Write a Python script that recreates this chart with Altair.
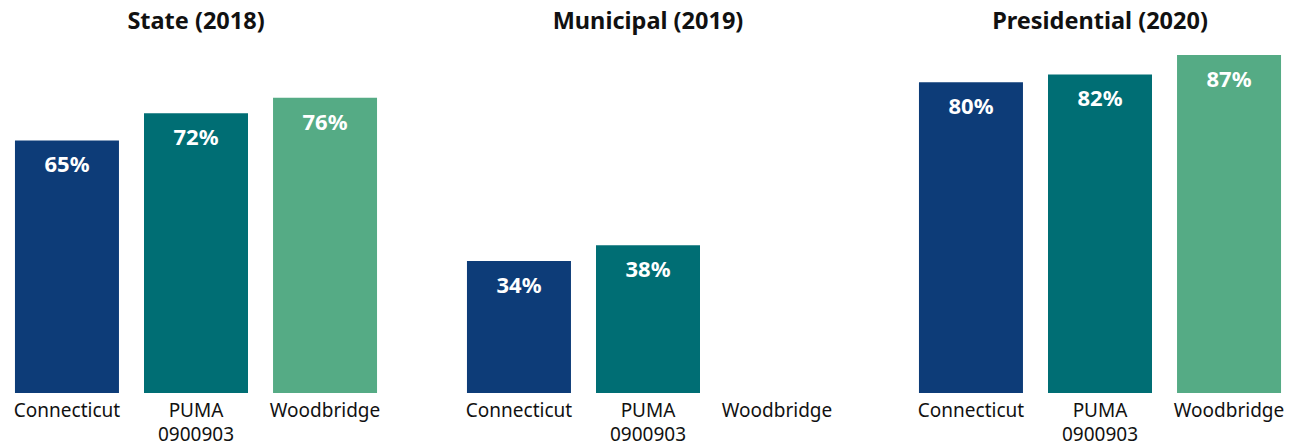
import altair as alt
import pandas as pd

elections = ["State (2018)", "State (2018)", "State (2018)",
             "Municipal (2019)", "Municipal (2019)",
             "Presidential (2020)", "Presidential (2020)", "Presidential (2020)"]
regions = ["Connecticut", "PUMA 0900903", "Woodbridge",
           "Connecticut", "PUMA 0900903",
           "Connecticut", "PUMA 0900903", "Woodbridge"]
turnout = [0.65, 0.72, 0.76, 0.34, 0.38, 0.80, 0.82, 0.87]

region_order = ["Connecticut", "PUMA 0900903", "Woodbridge"]
election_order = ["State (2018)", "Municipal (2019)", "Presidential (2020)"]
colors = ["#0d3c78", "#006e74", "#55ab85"]

df = pd.DataFrame({"election": elections, "region": regions, "turnout": turnout})

FONT = "Noto Sans"

base = alt.Chart(df).encode(
    x=alt.X("region:N", sort=region_order,
            scale=alt.Scale(domain=region_order, paddingInner=0.194, paddingOuter=0.054),
            axis=alt.Axis(title=None, labelAngle=0, domain=False, ticks=False,
                          labelFontSize=19, labelFont=FONT, labelColor="#111",
                          labelPadding=8, labelLineHeight=24,
                          labelExpr="split(datum.label, ' ')")),
    y=alt.Y("turnout:Q", scale=alt.Scale(domain=[0, 0.87], nice=False, zero=True),
            axis=None),
)

bars = base.mark_bar().encode(
    color=alt.Color("region:N", scale=alt.Scale(domain=region_order, range=colors), legend=None)
)
labels = base.mark_text(color="white", fontWeight="bold", fontSize=22, font=FONT,
                        baseline="middle", dy=25).encode(
    text=alt.Text("turnout:Q", format=".0%")
)

chart = alt.layer(bars, labels).properties(width=376, height=338).facet(
    column=alt.Column("election:N", sort=election_order,
                      header=alt.Header(title=None, labelFontSize=23.5, labelFont=FONT,
                                        labelFontWeight="bold", labelColor="#111",
                                        labelPadding=22))
).configure_facet(spacing=76).configure_view(stroke=None).properties(
    padding={"left": 0, "top": 1, "right": 0, "bottom": 6}
)

chart.save("out.html", embed_options={"renderer": "svg", "actions": False})
